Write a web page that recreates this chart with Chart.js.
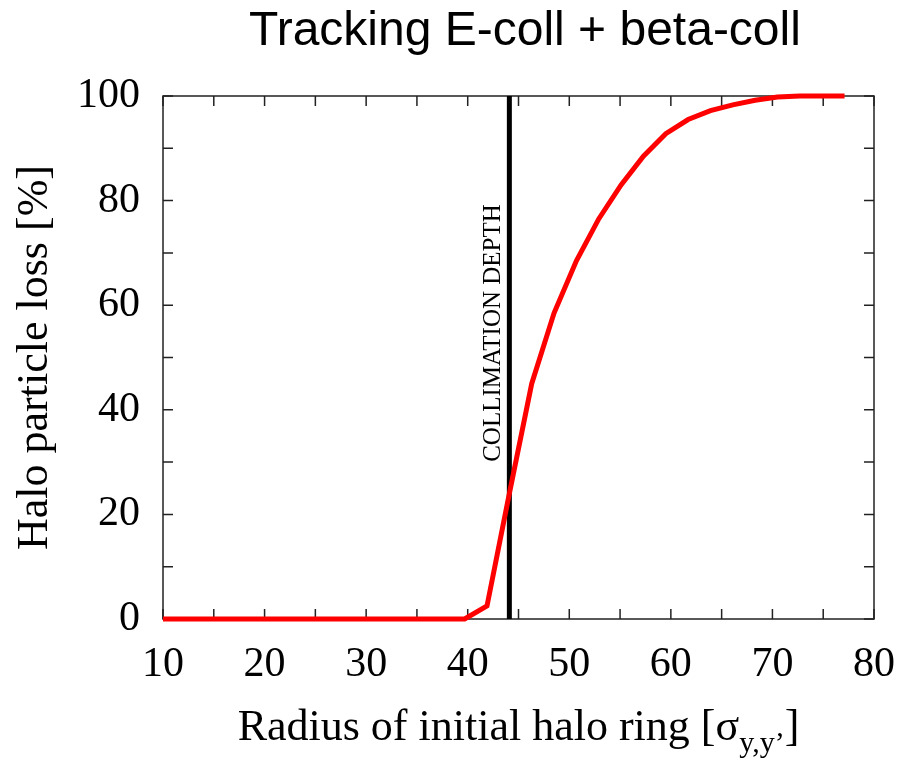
<!DOCTYPE html>
<html>
<head>
<meta charset="utf-8">
<title>Tracking E-coll + beta-coll</title>
<script src="https://cdn.jsdelivr.net/npm/chart.js@4/dist/chart.umd.min.js"></script>
<style>
  body { margin: 0; background: #fff; }
  #wrap { width: 902px; height: 764px; position: relative; }
</style>
</head>
<body>
<div id="wrap"><canvas id="lossChart"></canvas></div>
<script>
// Halo ring radius [sigma] vs. particle loss [%]
const radius = [10, 39.7, 41.9, 44.1, 46.3, 48.5, 50.7, 52.9, 55.1, 57.3, 59.5, 61.7, 63.9, 66.1, 68.3, 70.5, 72.7, 74.9, 77.1];
const loss   = [0, 0, 2.5, 24, 45, 58.5, 68.5, 76.5, 83, 88.5, 92.8, 95.5, 97.2, 98.3, 99.2, 99.8, 100, 100, 100];

// collimation depth marker
const collimationDepth = 44.1;
const depthSpan = [0, 100];

// tick labels
const xTickValues = [10, 20, 30, 40, 50, 60, 70, 80];
const yTickValues = [0, 20, 40, 60, 80, 100];
const xMinorStep = 5;
const yMinorStep = 10;

const serif = '"Liberation Serif", "Times New Roman", serif';
const sans = '"Liberation Sans", Arial, sans-serif';

// frame with inward ticks on all four sides
const framePlugin = {
  id: 'frame',
  beforeDatasetsDraw(chart) {
    const { ctx, chartArea: a, scales: { x, y } } = chart;
    const len = 10;
    ctx.save();
    ctx.strokeStyle = '#222';
    ctx.lineWidth = 1.5;
    ctx.strokeRect(a.left, a.top, a.right - a.left, a.bottom - a.top);
    ctx.beginPath();
    for (let v = x.min; v <= x.max + 1e-9; v += xMinorStep) {
      const px = x.getPixelForValue(v);
      ctx.moveTo(px, a.bottom); ctx.lineTo(px, a.bottom - len);
      ctx.moveTo(px, a.top); ctx.lineTo(px, a.top + len);
    }
    for (let v = y.min; v <= y.max + 1e-9; v += yMinorStep) {
      const py = y.getPixelForValue(v);
      ctx.moveTo(a.left, py); ctx.lineTo(a.left + len, py);
      ctx.moveTo(a.right, py); ctx.lineTo(a.right - len, py);
    }
    ctx.stroke();
    ctx.restore();
  },
  afterDraw(chart) {
    const { ctx, chartArea: a, scales: { x, y } } = chart;
    ctx.save();
    ctx.fillStyle = '#000';

    // title
    ctx.font = '48px ' + sans;
    ctx.textAlign = 'center';
    ctx.textBaseline = 'alphabetic';
    ctx.fillText('Tracking E-coll + beta-coll', 525, 45);

    // x axis title with subscript
    const main = 'Radius of initial halo ring [σ';
    const sub = 'y,y’';
    const tail = ']';
    ctx.textAlign = 'left';
    ctx.font = '44px ' + serif;
    const wMain = ctx.measureText(main).width;
    const wTail = ctx.measureText(tail).width;
    ctx.font = '30px ' + serif;
    const wSub = ctx.measureText(sub).width;
    let sx = (a.left + a.right) / 2 - (wMain + wSub + wTail) / 2;
    const base = 740;
    ctx.font = '44px ' + serif;
    ctx.fillText(main, sx, base);
    sx += wMain;
    ctx.font = '30px ' + serif;
    ctx.fillText(sub, sx, base + 12);
    sx += wSub;
    ctx.font = '44px ' + serif;
    ctx.fillText(tail, sx, base);

    // y axis title
    ctx.save();
    ctx.translate(47, (a.top + a.bottom) / 2);
    ctx.rotate(-Math.PI / 2);
    ctx.textAlign = 'center';
    ctx.font = '44px ' + serif;
    ctx.fillText('Halo particle loss [%]', 0, 0);
    ctx.restore();

    // collimation depth label
    ctx.save();
    ctx.translate(x.getPixelForValue(collimationDepth) - 9, 333);
    ctx.rotate(-Math.PI / 2);
    ctx.textAlign = 'center';
    ctx.font = '25px ' + serif;
    ctx.fillText('COLLIMATION DEPTH', 0, 0);
    ctx.restore();

    ctx.restore();
  }
};

new Chart(document.getElementById('lossChart'), {
  type: 'line',
  data: {
    datasets: [
      {
        data: radius.map((r, i) => ({ x: r, y: loss[i] })),
        borderColor: '#ff0000',
        borderWidth: 5,
        pointRadius: 0,
        tension: 0,
        clip: false
      },
      {
        data: depthSpan.map(v => ({ x: collimationDepth, y: v })),
        borderColor: '#000',
        borderWidth: 5,
        pointRadius: 0,
        clip: false
      }
    ]
  },
  options: {
    responsive: true,
    maintainAspectRatio: false,
    animation: false,
    layout: { padding: { left: 0, right: 28, top: 96, bottom: 0 } },
    plugins: {
      legend: { display: false },
      title: { display: false },
      tooltip: { enabled: false }
    },
    scales: {
      x: {
        type: 'linear',
        min: 10,
        max: 80,
        afterBuildTicks: s => { s.ticks = xTickValues.map(v => ({ value: v })); },
        afterFit: s => { s.height = 145; s.paddingLeft = 0; s.paddingRight = 0; },
        grid: { display: false, drawTicks: false },
        border: { display: false },
        ticks: {
          color: '#000',
          font: { family: serif, size: 42 },
          padding: 21,
          maxRotation: 0,
          autoSkip: false
        }
      },
      y: {
        min: 0,
        max: 100,
        afterBuildTicks: s => { s.ticks = yTickValues.map(v => ({ value: v })); },
        afterFit: s => { s.width = 163; s.paddingTop = 0; s.paddingBottom = 0; },
        grid: { display: false, drawTicks: false },
        border: { display: false },
        ticks: {
          color: '#000',
          font: { family: serif, size: 42 },
          padding: 23
        }
      }
    }
  },
  plugins: [framePlugin]
});
</script>
</body>
</html>
